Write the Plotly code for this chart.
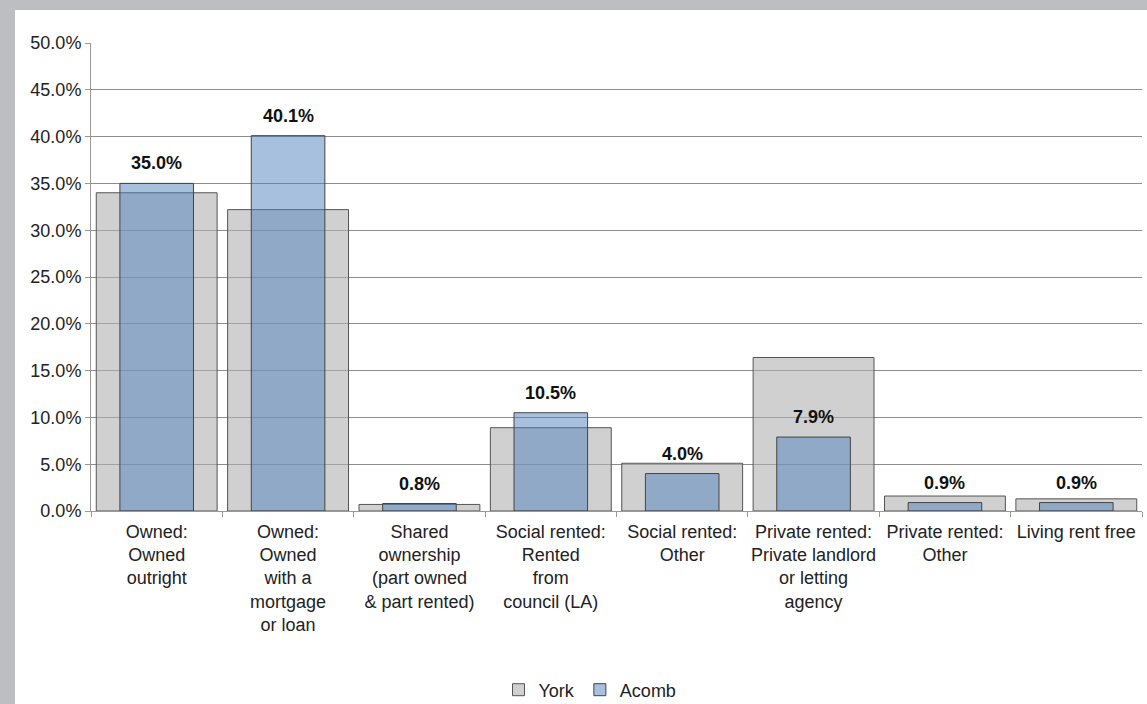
import plotly.graph_objects as go

categories = [
    "Owned:<br>Owned<br>outright",
    "Owned:<br>Owned<br>with a<br>mortgage<br>or loan",
    "Shared<br>ownership<br>(part owned<br>& part rented)",
    "Social rented:<br>Rented<br>from<br>council (LA)",
    "Social rented:<br>Other",
    "Private rented:<br>Private landlord<br>or letting<br>agency",
    "Private rented:<br>Other",
    "Living rent free",
]
york = [34.0, 32.2, 0.7, 8.9, 5.1, 16.4, 1.6, 1.3]
acomb = [35.0, 40.1, 0.8, 10.5, 4.0, 7.9, 0.9, 0.9]

W, H = 1147, 704
L, R, T, B = 91, 5, 43, 193
pw = W - L - R
ph = H - T - B

FONT = "Liberation Sans, Arial"

fig = go.Figure()
fig.add_trace(go.Bar(
    x=categories, y=york, name="York", width=0.92,
    marker=dict(color="rgba(177,177,177,0.6)", line=dict(color="#555555", width=1)),
))
fig.add_trace(go.Bar(
    x=categories, y=acomb, name="Acomb", width=0.56,
    marker=dict(color="rgba(79,129,189,0.5)", line=dict(color="#444444", width=1)),
))

for c, v in zip(categories, acomb):
    fig.add_annotation(x=c, y=v, text=f"<b>{v:.1f}%</b>", showarrow=False,
                       yanchor="middle", yshift=20,
                       font=dict(size=18, color="#111111", family=FONT))

def px2x(p):
    return (p - L) / pw

def py2y(p):
    return (H - B - p) / ph

fig.add_shape(type="rect", xref="paper", yref="paper",
              x0=px2x(15), x1=px2x(W + 5), y0=py2y(H + 5), y1=py2y(10),
              fillcolor="white", line=dict(width=0), layer="below")

fig.update_layout(
    width=W, height=H,
    margin=dict(l=L, r=R, t=T, b=B, autoexpand=False),
    paper_bgcolor="#BDBEC2", plot_bgcolor="white",
    barmode="overlay",
    font=dict(family=FONT, size=18, color="#222222"),
    showlegend=True,
    legend=dict(orientation="h", x=px2x(590), xanchor="center", y=py2y(690), yanchor="middle",
                font=dict(size=18), bgcolor="rgba(0,0,0,0)", itemwidth=30,
                tracegroupgap=0),
    xaxis=dict(tickson="boundaries", ticks="outside", ticklen=5, tickcolor="#999999",
               showline=True, linecolor="#999999", showgrid=False, tickangle=0,
               tickfont=dict(size=18), ticklabelstandoff=4, automargin=False),
    yaxis=dict(range=[0, 50], dtick=5, ticksuffix="%", tickformat=".1f",
               ticks="outside", ticklen=5, tickcolor="#999999",
               showline=True, linecolor="#999999",
               showgrid=True, gridcolor="#8C8C8C", gridwidth=1,
               tickfont=dict(size=18), zeroline=False, automargin=False),
)

fig.write_html("out.html", config={"displayModeBar": False},
               post_script="document.body.style.margin='0';document.body.style.overflow='hidden';")
